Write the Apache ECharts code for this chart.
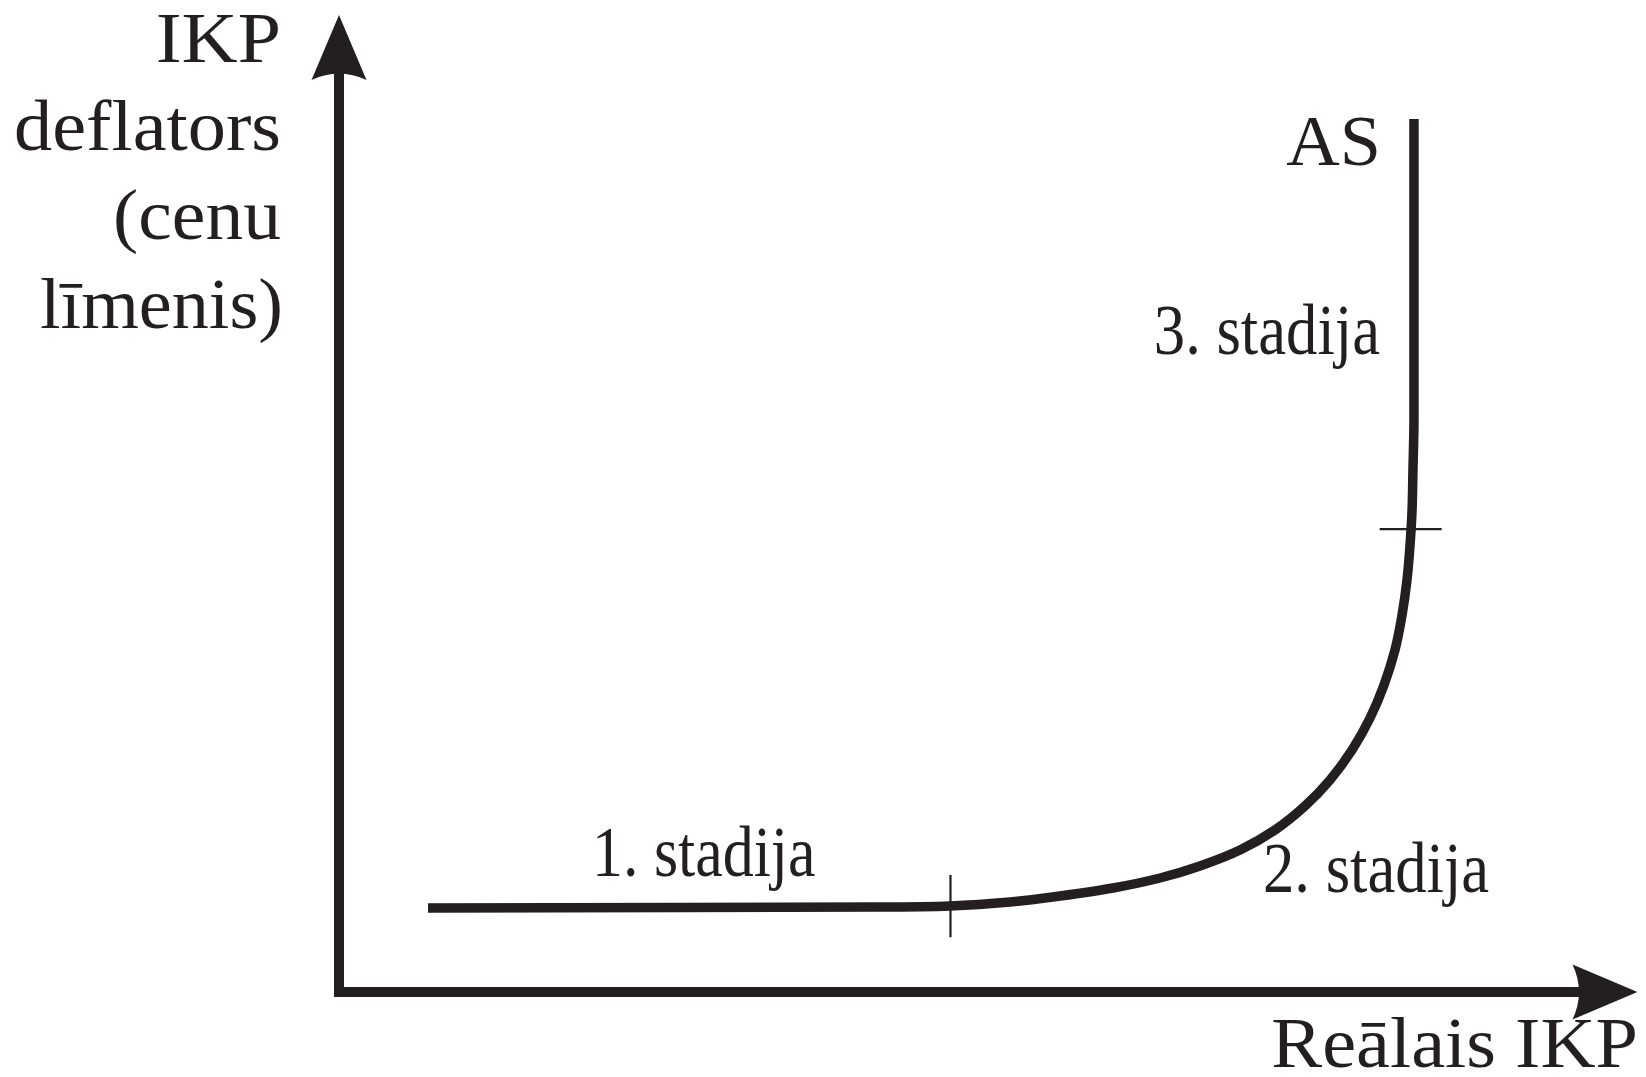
<!DOCTYPE html>
<html>
<head>
<meta charset="utf-8">
<script src="https://cdn.jsdelivr.net/npm/echarts@6/dist/echarts.min.js"></script>
<style>
html,body{margin:0;padding:0;background:#fff;}
#chart{width:1646px;height:1077px;}
</style>
</head>
<body>
<div id="chart"></div>
<script>
const curveX = [7.03, 42.73, 48.26, 53.00, 56.95, 61.14, 64.85, 68.01, 71.17, 73.93, 76.30, 78.28, 80.02, 81.44, 82.54, 83.41, 83.97, 84.36, 84.60, 84.76, 84.83, 84.91, 84.91];
const curveY = [8.89, 9.00, 9.11, 9.53, 10.16, 11.01, 12.07, 13.34, 15.03, 17.15, 19.69, 22.45, 25.62, 29.01, 32.50, 36.21, 39.92, 43.62, 47.33, 51.03, 55.27, 60.56, 92.43];
// stage boundary marks
const mark1X = [48.3, 48.3];
const mark1Y = [12.4, 5.8];
const mark2X = [82.2, 87.1];
const mark2Y = [49.0, 49.0];
// texts
const yTitleLines = ['IKP', 'deflators', '(cenu', 'līmenis)'];
const xTitle = 'Reālais IKP';
const curveName = 'AS';
const stageLabels = ['1. stadija', '2. stadija', '3. stadija'];

const INK = '#231f20';
const FONT = '"Liberation Serif", "DejaVu Serif", serif';
const FS = 72;
const ARROW = 'path://M27.5,0 L55,65 Q27.5,52 0,65 Z';

function pairs(xs, ys) { return xs.map((x, i) => [x, ys[i]]); }

function txt(text, x, baseline, align, sx) {
  return {
    type: 'text',
    x: x,
    y: baseline - Math.round(FS * 0.305),
    scaleX: sx,
    style: {
      text: text,
      fill: INK,
      font: FS + 'px ' + FONT,
      textAlign: align,
      textVerticalAlign: 'middle'
    }
  };
}

const chart = echarts.init(document.getElementById('chart'), null, {renderer: 'canvas'});
const option = {
  backgroundColor: '#ffffff',
  animation: false,
  grid: {left: 339, right: 41, top: 47.5, bottom: 85},
  xAxis: {
    type: 'value', min: 0, max: 100,
    axisLine: {show: true, onZero: false, symbol: ['none', ARROW], symbolSize: [55, 65],
      lineStyle: {color: INK, width: 10, cap: 'square'}},
    axisTick: {show: false}, axisLabel: {show: false}, splitLine: {show: false}
  },
  yAxis: {
    type: 'value', min: 0, max: 100,
    axisLine: {show: true, onZero: false, symbol: ['none', ARROW], symbolSize: [55, 65],
      lineStyle: {color: INK, width: 10, cap: 'square'}},
    axisTick: {show: false}, axisLabel: {show: false}, splitLine: {show: false}
  },
  series: [
    {type: 'line', name: curveName, data: pairs(curveX, curveY), smooth: 0.3, showSymbol: false, symbol: 'none',
      lineStyle: {color: INK, width: 9.5, cap: 'butt', join: 'round'}, z: 3},
    {type: 'line', data: pairs(mark1X, mark1Y), showSymbol: false, symbol: 'none',
      lineStyle: {color: INK, width: 2.2}, z: 4},
    {type: 'line', data: pairs(mark2X, mark2Y), showSymbol: false, symbol: 'none',
      lineStyle: {color: INK, width: 2.2}, z: 4}
  ],
  graphic: [
    txt(yTitleLines[0], 281, 65, 'right', 1.08),
    txt(yTitleLines[1], 281, 153, 'right', 1.06),
    txt(yTitleLines[2], 281, 242, 'right', 1.05),
    txt(yTitleLines[3], 283, 331, 'right', 1.03),
    txt(curveName, 1381, 168, 'right', 1.03),
    txt(stageLabels[2], 1380, 357, 'right', 0.87),
    txt(stageLabels[0], 592, 879, 'left', 0.86),
    txt(stageLabels[1], 1263, 895, 'left', 0.87),
    txt(xTitle, 1638, 1070, 'right', 1.06)
  ]
};
chart.setOption(option);
</script>
</body>
</html>
